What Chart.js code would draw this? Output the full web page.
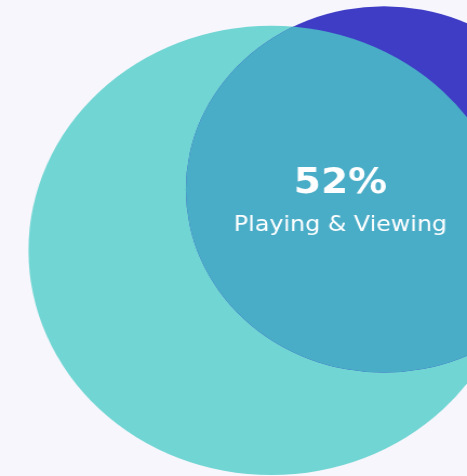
<!DOCTYPE html>
<html>
<head>
<meta charset="utf-8">
<script src="https://cdn.jsdelivr.net/npm/chart.js@4/dist/chart.umd.min.js"></script>
<style>
  html, body { margin: 0; padding: 0; background: #F7F6FC; overflow: hidden; }
  /* the artwork is slightly wider than tall, so the plot is stretched horizontally */
  #wrap { width: 432px; height: 476px; transform: scaleX(1.081); transform-origin: 0 0; }
  #chart { width: 432px; height: 476px; display: block; }
</style>
</head>
<body>
<div id="wrap"><canvas id="chart" width="432" height="476"></canvas></div>
<script>
// Sets of the diagram (data space: 0–100 on both axes)
const setNames   = ['Playing', 'Viewing'];
const setX       = [58.1, 82.2];
const setY       = [47.4, 60.2];
const setRadius  = [52.0, 42.4];
const setColors  = ['#70D5D3', '#3F3DC5'];

// Shared region of the two sets
const overlapName  = 'Playing & Viewing';
const overlapPct   = [52];
const overlapColor = '#4AADC8';
const labelAt      = [72.9, 57.3];

// the overlap bubble is clipped to the first set's circle
const overlapClip = {
  id: 'overlapClip',
  beforeDatasetDraw(chart, args) {
    if (args.index !== 2) return;
    const el = chart.getDatasetMeta(0).data[0];
    const ctx = chart.ctx;
    ctx.save();
    ctx.beginPath();
    ctx.arc(el.x, el.y, el.options.radius, 0, Math.PI * 2);
    ctx.clip();
  },
  afterDatasetDraw(chart, args) {
    if (args.index === 2) chart.ctx.restore();
  }
};

// percentage and name of the shared region
const overlapLabel = {
  id: 'overlapLabel',
  afterDatasetsDraw(chart) {
    const ctx = chart.ctx;
    const x = chart.scales.x.getPixelForValue(labelAt[0]);
    const y = chart.scales.y.getPixelForValue(labelAt[1]);
    ctx.save();
    ctx.fillStyle = '#FFFFFF';
    ctx.textAlign = 'center';
    ctx.textBaseline = 'alphabetic';
    ctx.font = 'bold 36px "DejaVu Sans", sans-serif';
    ctx.fillText(overlapPct[0] + '%', x, y - 10);
    ctx.font = '400 22px "DejaVu Sans", sans-serif';
    ctx.fillText(overlapName, x, y + 28);
    ctx.restore();
  }
};

function setDataset(i, label, color, order) {
  return {
    label: label,
    data: [{ x: setX[i], y: setY[i], r: 0 }],
    backgroundColor: color,
    borderWidth: 0,
    hoverBorderWidth: 0,
    order: order,
    clip: false,
    setIndex: i
  };
}

const chart = new Chart(document.getElementById('chart'), {
  type: 'bubble',
  data: {
    datasets: [
      setDataset(0, setNames[0], setColors[0], 3),
      setDataset(1, setNames[1], setColors[1], 2),
      setDataset(1, overlapName, overlapColor, 1)
    ]
  },
  options: {
    responsive: false,
    animation: false,
    events: [],
    layout: { padding: 0, autoPadding: false },
    scales: {
      x: { type: 'linear', min: 0, max: 100, display: false },
      y: { type: 'linear', min: 0, max: 100, display: false }
    },
    plugins: {
      legend: { display: false },
      tooltip: { enabled: false }
    }
  },
  plugins: [overlapClip, overlapLabel]
});

// bubble radii are given in x-axis units; convert them with the laid-out scale
const sx = chart.scales.x;
chart.data.datasets.forEach(ds => {
  const r = setRadius[ds.setIndex];
  ds.data[0].r = Math.abs(sx.getPixelForValue(r) - sx.getPixelForValue(0));
});
chart.update('none');
</script>
</body>
</html>
